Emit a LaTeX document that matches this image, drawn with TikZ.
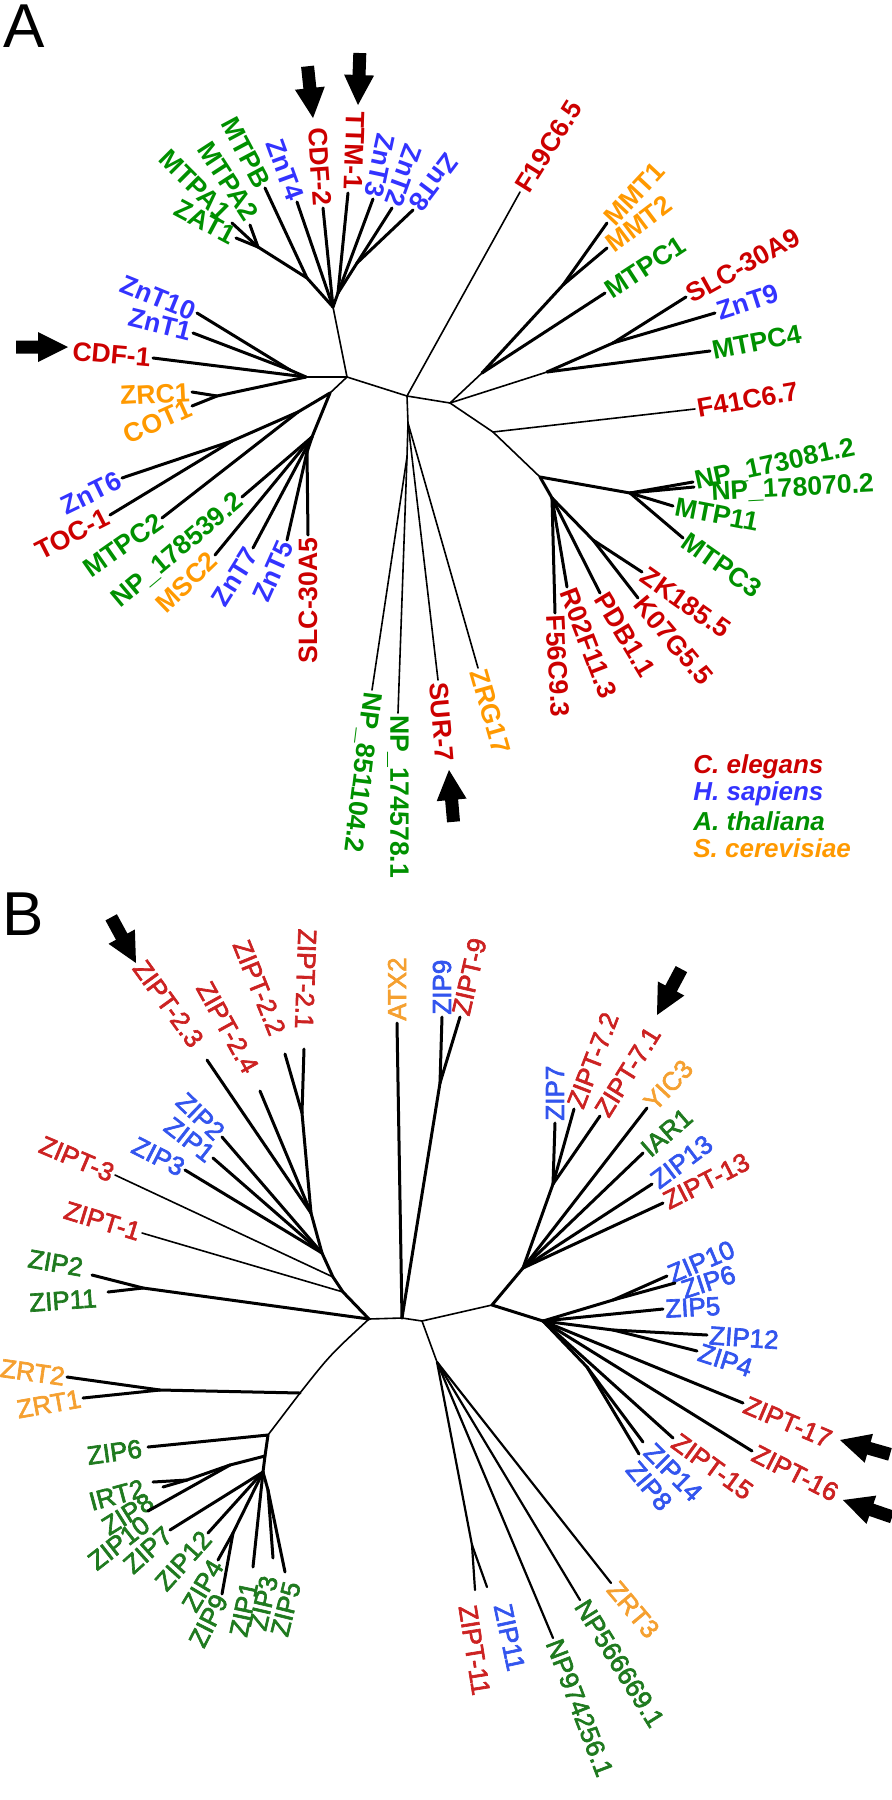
\documentclass[tikz,border=0pt]{standalone}
\usepackage{fontspec}
\setmainfont{Liberation Sans}
\newfontfamily\semibfam{Liberation Sans}[FakeBold=2.5]
\definecolor{cr}{HTML}{CC0000}
\definecolor{cb}{HTML}{3333FF}
\definecolor{cg}{HTML}{009000}
\definecolor{co}{HTML}{FF9900}
\definecolor{br}{HTML}{CC2222}
\definecolor{bb}{HTML}{3355EE}
\definecolor{bg}{HTML}{1F7A1F}
\definecolor{bo}{HTML}{F5A030}
\tikzset{
 la/.style={font=\bfseries\fontsize{13.3}{14}\selectfont, inner sep=1pt},
 lb/.style={font=\semibfam\fontsize{13}{14}\selectfont, inner sep=1pt},
 thk/.style={line width=1.5pt, line cap=round, line join=round},
 thn/.style={line width=0.8pt, line cap=round, line join=round},
 mid/.style={line width=1.1pt, line cap=round, line join=round},
 legend/.style={font=\bfseries\itshape\fontsize{13}{13}\selectfont, inner sep=0pt, anchor=west},
 panel/.style={font=\fontsize{31}{31}\selectfont, inner sep=0pt, anchor=base west},
}
\newcommand\lfE[6]{\node[#1,text=#5,anchor=east,rotate=#4] (#2) at (#3) {#6};}
\newcommand\lfW[6]{\node[#1,text=#5,anchor=west,rotate=#4] (#2) at (#3) {#6};}
\newcommand\barrow[2]{\begin{scope}[shift={(#1)},rotate=#2]
 \fill (0,0) -- (-30,-15) -- (-30,-6.5) -- (-52,-6.5) -- (-52,6.5) -- (-30,6.5) -- (-30,15) -- cycle;
 \end{scope}}
\begin{document}
\begin{tikzpicture}[x=0.5pt,y=-0.5pt]
\useasboundingbox (0,0) rectangle (892,1800);
\node[panel] (pA) at (3,47) {A};
\node[panel] (pB) at (2,935) {B};
% ================= TREE A =================
\coordinate (aT) at (333,307);
\coordinate (aTm) at (307,278);
\coordinate (aTma) at (258,247);
\coordinate (aTz) at (338,293);
\coordinate (aTz2) at (357,263);
\coordinate (aL) at (347,377);
\coordinate (aLc) at (306,377);
\coordinate (aLc1) at (290,370);
\coordinate (aLz) at (217,396);
\coordinate (aLL) at (330,393);
\coordinate (aJ1) at (298,412);
\coordinate (aJ2) at (232,441);
\coordinate (aJ3) at (312,437);
\coordinate (aJ4) at (307,452);
\coordinate (aM) at (407,396);
\coordinate (aMd) at (408,423);
\coordinate (aMn) at (407,457);
\coordinate (aR) at (450,403);
\coordinate (aRm) at (482,373);
\coordinate (aRmm) at (563,285);
\coordinate (aRs) at (547,372);
\coordinate (aRs2) at (613,343);
\coordinate (aRf) at (493,432);
\coordinate (aRl) at (540,477);
\coordinate (aRn) at (630,493);
\coordinate (aRk) at (552,498);
\coordinate (aRk2) at (593,540);
\coordinate (aNP178070t) at (694,487);
\coordinate (tMTPA1) at (232,223);
\coordinate (tMTPA2) at (250,225);
\coordinate (tTTM1) at (348,193);
% leaves A
\lfE{la}{aZAT1}{236,238}{-28}{cg}{ZAT1}
\lfE{la}{aMTPA1}{228,218}{-45}{cg}{MTPA1}
\lfE{la}{aMTPA2}{254,220}{-57}{cg}{MTPA2}
\lfE{la}{aMTPB}{265,188}{-62}{cg}{MTPB}
\lfE{la}{aZnT4}{297,202}{-70}{cb}{ZnT4}
\lfE{la}{aCDF2}{323,208}{-86}{cr}{CDF-2}
\lfE{la}{aTTM1}{353,192}{-92}{cr}{TTM-1}
\lfE{la}{aZnT3}{373,199}{-102}{cb}{ZnT3}
\lfE{la}{aZnT2}{392,208}{-110}{cb}{ZnT2}
\lfE{la}{aZnT8}{413,210}{-127}{cb}{ZnT8}
\lfE{la}{aZnT10}{197,313}{-22}{cb}{ZnT10}
\lfE{la}{aZnT1}{193,333}{-14}{cb}{ZnT1}
\lfE{la}{aCDF1}{153,358}{-5}{cr}{CDF-1}
\lfE{la}{aZRC1}{192,392}{3}{co}{ZRC1}
\lfE{la}{aCOT1}{192,406}{24}{co}{COT1}
\lfE{la}{aZnT6}{122,478}{26}{cb}{ZnT6}
\lfE{la}{aTOC1}{110,515}{27}{cr}{TOC-1}
\lfE{la}{aMTPC2}{162,518}{35}{cg}{MTPC2}
\lfE{la}{aNP178539}{242,497}{40}{cg}{NP\_178539.2}
\lfE{la}{aMSC2}{215,555}{44}{co}{MSC2}
\lfE{la}{aZnT7}{253,548}{58}{cb}{ZnT7}
\lfE{la}{aZnT5}{287,540}{66}{cb}{ZnT5}
\lfE{la}{aSLC30A5}{308,535}{90}{cr}{SLC-30A5}
\lfW{la}{aNP851104}{372,690}{-97}{cg}{NP\_851104.2}
\lfW{la}{aNP174578}{398,713}{-90}{cg}{NP\_174578.1}
\lfW{la}{aSUR7}{438,680}{-85}{cr}{SUR-7}
\lfW{la}{aZRG17}{478,668}{-74}{co}{ZRG17}
\lfW{la}{aF19}{520,192}{58}{cr}{F19C6.5}
\lfW{la}{aMMT1}{607,223}{47}{co}{MMT1}
\lfW{la}{aMMT2}{607,248}{37}{co}{MMT2}
\lfW{la}{aMTPC1}{605,293}{33}{cg}{MTPC1}
\lfW{la}{aSLC30A9}{686,297}{29}{cr}{SLC-30A9}
\lfW{la}{aZnT9}{715,313}{18}{cb}{ZnT9}
\lfW{la}{aMTPC4}{710,351}{11}{cg}{MTPC4}
\lfW{la}{aF41}{695,409}{10}{cr}{F41C6.7}
\lfW{la}{aNP173081}{693,482}{12}{cg}{NP\_173081.2}
\lfW{la}{aNP178070}{709,493}{3}{cg}{NP\_178070.2}
\lfW{la}{aMTP11}{673,506}{-11}{cg}{MTP11}
\lfW{la}{aMTPC3}{683,538}{-35}{cg}{MTPC3}
\lfW{la}{aZK185}{642,572}{-35}{cr}{ZK185.5}
\lfW{la}{aK07G5}{638,598}{-50}{cr}{K07G5.5}
\lfW{la}{aPDB11}{600,593}{-59}{cr}{PDB1.1}
\lfW{la}{aR02F11}{567,587}{-69}{cr}{R02F11.3}
\lfW{la}{aF56C9}{555,613}{-87}{cr}{F56C9.3}
% edges A thin
\draw[thn] (aT) -- (aL);
\draw[thn] (aLc) -- (aL);
\draw[thn] (aL) -- (aM);
\draw[thn] (aL) -- (aLL);
\draw[thn] (aM) -- (aR);
\draw[thn] (aM) -- (aMd);
\draw[thn] (aMd) -- (aMn);
\draw[thn] (aMd) -- (aSUR7.west);
\draw[thn] (aMd) -- (aZRG17.west);
\draw[thn] (aMn) -- (aNP851104.west);
\draw[thn] (aMn) -- (aNP174578.west);
\draw[thn] (aM) -- (aF19.west);
\draw[thn] (aR) -- (aRm);
\draw[thn] (aR) -- (aRs);
\draw[thn] (aR) -- (aRf);
\draw[thn] (aRf) -- (aRl);
\draw[thn] (aRf) -- (aF41.west);
% edges A thick
\draw[thk] (aT) -- (aTm);
\draw[thk] (aTm) -- (aTma);
\draw[thk] (aTma) -- (aZAT1.east);
\draw[thk] (aTma) -- (tMTPA1);
\draw[thk] (aTma) -- (tMTPA2);
\draw[thk] (aTm) -- (aMTPB.east);
\draw[thk] (aT) -- (aZnT4.east);
\draw[thk] (aT) -- (aCDF2.east);
\draw[thk] (aT) -- (aTz);
\draw[thk] (aTz) -- (tTTM1);
\draw[thk] (aTz) -- (aZnT3.east);
\draw[thk] (aTz) -- (aTz2);
\draw[thk] (aTz2) -- (aZnT2.east);
\draw[thk] (aTz2) -- (aZnT8.east);
\draw[thk] (aLc) -- (aLc1);
\draw[thk] (aLc1) -- (aZnT10.east);
\draw[thk] (aLc1) -- (aZnT1.east);
\draw[thk] (aLc) -- (aCDF1.east);
\draw[thk] (aLc) -- (aLz);
\draw[thk] (aLz) -- (aZRC1.east);
\draw[thk] (aLz) -- (aCOT1.east);
\draw[thk] (aLL) -- (aJ1);
\draw[thk] (aJ1) -- (aJ2);
\draw[thk] (aJ2) -- (aZnT6.east);
\draw[thk] (aJ2) -- (aTOC1.east);
\draw[thk] (aJ1) -- (aMTPC2.east);
\draw[thk] (aLL) -- (aJ3);
\draw[thk] (aJ3) -- (aNP178539.east);
\draw[thk] (aJ3) -- (aMSC2.east);
\draw[thk] (aJ3) -- (aZnT7.east);
\draw[thk] (aJ3) -- (aJ4);
\draw[thk] (aJ4) -- (aZnT5.east);
\draw[thk] (aJ4) -- (aSLC30A5.east);
\draw[thk] (aRm) -- (aRmm);
\draw[thk] (aRmm) -- (aMMT1.west);
\draw[thk] (aRmm) -- (aMMT2.west);
\draw[thk] (aRm) -- (aMTPC1.west);
\draw[thk] (aRs) -- (aRs2);
\draw[thk] (aRs2) -- (aSLC30A9.west);
\draw[thk] (aRs2) -- (aZnT9.west);
\draw[thk] (aRs) -- (aMTPC4.west);
\draw[thk] (aRl) -- (aRn);
\draw[thk] (aRn) -- (aNP173081.west);
\draw[thk] (aRn) -- (aNP178070t);
\draw[thk] (aRn) -- (aMTP11.west);
\draw[thk] (aRn) -- (aMTPC3.west);
\draw[thk] (aRl) -- (aRk);
\draw[thk] (aRk) -- (aF56C9.west);
\draw[thk] (aRk) -- (aR02F11.west);
\draw[thk] (aRk) -- (aPDB11.west);
\draw[thk] (aRk) -- (aRk2);
\draw[thk] (aRk2) -- (aK07G5.west);
\draw[thk] (aRk2) -- (aZK185.west);
% arrows A
\barrow{68,347}{0}
\barrow{313,118}{-84}
\barrow{358,105}{-92}
\barrow{449,770}{95}
% legend
\node[legend,text=cr] (legC) at (693,767) {C. elegans};
\node[legend,text=cb] (legH) at (693,794) {H. sapiens};
\node[legend,text=cg] (legA) at (693,821) {A. thaliana};
\node[legend,text=co] (legS) at (693,848) {S. cerevisiae};
% ================= TREE B =================
\coordinate (bBL) at (369,1319);
\coordinate (bBM) at (402,1318);
\coordinate (bBR) at (422,1321);
\coordinate (bP1) at (143,1288);
\coordinate (bBLa) at (343,1292);
\coordinate (bBLb) at (333,1277);
\coordinate (bBLc) at (322,1253);
\coordinate (bBLd) at (311,1213);
\coordinate (bBLe) at (302,1113);
\coordinate (bZ9) at (440,1083);
\coordinate (bBR2) at (492,1305);
\coordinate (bBRa) at (523,1268);
\coordinate (bBRa1) at (553,1184);
\coordinate (bBRb) at (543,1321);
\coordinate (bB10) at (613,1300);
\coordinate (bB12) at (613,1330);
\coordinate (bB14) at (587,1367);
\coordinate (bBRl) at (437,1362);
\coordinate (bB11) at (472,1545);
\coordinate (bBLz0) at (300,1393);
\coordinate (bZRT) at (160,1390);
\coordinate (bBLz) at (268,1435);
\coordinate (bBLz2) at (265,1456);
\coordinate (bBLp) at (230,1465);
\coordinate (bIR) at (187,1480);
\coordinate (bBLq) at (263,1472);
\coordinate (bZ49) at (233,1533);
\coordinate (bZ35) at (268,1490);
% tips whose label sits a little apart
\coordinate (tZIPT23) at (207,1060);
\coordinate (tZIPT24) at (260,1091);
\coordinate (tZIPT22) at (285,1054);
\coordinate (tZIPT21) at (304,1049);
\coordinate (tZIPT11) at (475,1590);
\coordinate (tZIP11b) at (487,1587);
\coordinate (tZIP8r) at (639,1454);
\coordinate (tZIP14r) at (643,1442);
\coordinate (tZIP6r) at (675,1283);
\coordinate (tZIP6g) at (148,1447);
\coordinate (tIRT2) at (153,1482);
\coordinate (tZIP8g) at (163,1487);
\coordinate (tZIP10g) at (148,1511);
\coordinate (tZIP1g) at (253,1567);
\coordinate (tZIP3g) at (273,1558);
\coordinate (tZIP5g) at (285,1572);
\coordinate (tZIP2g) at (92,1275);
\coordinate (tZIP11g) at (108,1292);
% leaves B
\lfE{lb}{bZIPT23}{199,1046}{-54}{br}{ZIPT-2.3}
\lfE{lb}{bZIPT24}{253,1073}{-61}{br}{ZIPT-2.4}
\lfE{lb}{bZIPT22}{279,1036}{-68}{br}{ZIPT-2.2}
\lfE{lb}{bZIPT21}{304,1031}{-92}{br}{ZIPT-2.1}
\lfW{lb}{bATX2}{397,1023}{90}{bo}{ATX2}
\lfW{lb}{bZIP9}{442,1017}{90}{bb}{ZIP9}
\lfW{lb}{bZIPT9}{460,1017}{77}{br}{ZIPT-9}
\lfE{lb}{bZIP2u}{222,1137}{-44}{bb}{ZIP2}
\lfE{lb}{bZIP1u}{213,1158}{-38}{bb}{ZIP1}
\lfE{lb}{bZIP3u}{185,1170}{-27}{bb}{ZIP3}
\lfE{lb}{bZIPT3}{115,1175}{-23}{br}{ZIPT-3}
\lfE{lb}{bZIPT1}{142,1233}{-17}{br}{ZIPT-1}
\lfE{lb}{bZIP2g}{85,1268}{-10}{bg}{ZIP2}
\lfE{lb}{bZIP11g}{99,1298}{4}{bg}{ZIP11}
\lfW{lb}{bZIP7r}{555,1123}{90}{bb}{ZIP7}
\lfW{lb}{bZIPT72}{574,1109}{69}{br}{ZIPT-7.2}
\lfW{lb}{bZIPT71}{600,1116}{58}{br}{ZIPT-7.1}
\lfW{lb}{bYIC3}{647,1108}{47}{bo}{YIC3}
\lfW{lb}{bIAR1}{643,1153}{41}{bg}{IAR1}
\lfW{lb}{bZIP13}{652,1184}{37}{bb}{ZIP13}
\lfW{lb}{bZIPT13}{663,1203}{27}{br}{ZIPT-13}
\lfW{lb}{bZIP10r}{667,1276}{23}{bb}{ZIP10}
\lfW{lb}{bZIP6r}{680,1291}{18}{bb}{ZIP6}
\lfW{lb}{bZIP5r}{663,1309}{3}{bb}{ZIP5}
\lfW{lb}{bZIP12r}{707,1335}{-4}{bb}{ZIP12}
\lfW{lb}{bZIP4r}{697,1351}{-18}{bb}{ZIP4}
\lfW{lb}{bZIPT17}{743,1403}{-23}{br}{ZIPT-17}
\lfW{lb}{bZIPT16}{752,1451}{-27}{br}{ZIPT-16}
\lfW{lb}{bZIPT15}{673,1438}{-36}{br}{ZIPT-15}
\lfW{lb}{bZIP14r}{647,1446}{-45}{bb}{ZIP14}
\lfW{lb}{bZIP8r}{630,1463}{-50}{bb}{ZIP8}
\lfW{lb}{bZIPT11}{467,1603}{-81}{br}{ZIPT-11}
\lfW{lb}{bZIP11b}{502,1602}{-78}{bb}{ZIP11}
\lfW{lb}{bNP974}{553,1638}{-69}{bg}{NP974256.1}
\lfW{lb}{bNP566}{580,1600}{-58}{bg}{NP566669.1}
\lfW{lb}{bZRT3}{611,1583}{-50}{bo}{ZRT3}
\lfE{lb}{bZRT2}{67,1377}{-8}{bo}{ZRT2}
\lfE{lb}{bZRT1}{83,1398}{10}{bo}{ZRT1}
\lfE{lb}{bZIP6g}{144,1448}{8}{bg}{ZIP6}
\lfE{lb}{bIRT2}{146,1487}{15}{bg}{IRT2}
\lfE{lb}{bZIP8g}{153,1498}{32}{bg}{ZIP8}
\lfE{lb}{bZIP10g}{148,1520}{38}{bg}{ZIP10}
\lfE{lb}{bZIP7g}{170,1530}{42}{bg}{ZIP7}
\lfE{lb}{bZIP12g}{208,1533}{48}{bg}{ZIP12}
\lfE{lb}{bZIP4g}{218,1560}{59}{bg}{ZIP4}
\lfE{lb}{bZIP9g}{222,1594}{63}{bg}{ZIP9}
\lfE{lb}{bZIP1g}{250,1580}{78}{bg}{ZIP1}
\lfE{lb}{bZIP3g}{270,1574}{77}{bg}{ZIP3}
\lfE{lb}{bZIP5g}{293,1580}{76}{bg}{ZIP5}
% edges B thin
\draw[thn] (bBL) -- (bBM);
\draw[thn] (bBM) -- (bBR);
\draw[thn] (bBR) -- (bBR2);
\draw[thn] (bBR) -- (bBRl);
\draw[thn] (bBL) .. controls (330,1355) .. (bBLz0);
\draw[thn] (bBLz0) -- (bBLz);
\draw[thn] (bBLb) -- (bZIPT3.east);
\draw[thn] (bBLa) -- (bZIPT1.east);
% edges B thick
\draw[thk] (bBL) -- (bBLa) -- (bBLb) -- (bBLc) -- (bBLd) -- (bBLe);
\draw[thk] (bBL) -- (bP1);
\draw[thk] (bP1) -- (tZIP2g);
\draw[thk] (bP1) -- (tZIP11g);
\draw[thk] (bBLc) -- (bZIP2u.east);
\draw[thk] (bBLc) -- (bZIP1u.east);
\draw[thk] (bBLc) -- (bZIP3u.east);
\draw[thk] (bBLd) -- (tZIPT23);
\draw[thk] (bBLd) -- (tZIPT24);
\draw[thk] (bBLe) -- (tZIPT22);
\draw[thk] (bBLe) -- (tZIPT21);
\draw[thk] (bBM) -- (bATX2.west);
\draw[thk] (bBM) -- (bZ9);
\draw[thk] (bZ9) -- (bZIP9.west);
\draw[thk] (bZ9) -- (bZIPT9.west);
\draw[thk] (bBR2) -- (bBRa);
\draw[thk] (bBR2) -- (bBRb);
\draw[thk] (bBRa) -- (bBRa1);
\draw[thk] (bBRa1) -- (bZIP7r.west);
\draw[thk] (bBRa1) -- (bZIPT72.west);
\draw[thk] (bBRa1) -- (bZIPT71.west);
\draw[thk] (bBRa) -- (bYIC3.west);
\draw[thk] (bBRa) -- (bIAR1.west);
\draw[thk] (bBRa) -- (bZIP13.west);
\draw[thk] (bBRa) -- (bZIPT13.west);
\draw[thk] (bBRb) -- (bB10);
\draw[thk] (bB10) -- (bZIP10r.west);
\draw[thk] (bB10) -- (tZIP6r);
\draw[thk] (bBRb) -- (bZIP5r.west);
\draw[thk] (bBRb) -- (bB12);
\draw[thk] (bB12) -- (bZIP12r.west);
\draw[thk] (bB12) -- (bZIP4r.west);
\draw[thk] (bBRb) -- (bZIPT17.west);
\draw[thk] (bBRb) -- (bZIPT16.west);
\draw[thk] (bBRb) -- (bZIPT15.west);
\draw[thk] (bBRb) -- (bB14);
\draw[thk] (bB14) -- (tZIP14r);
\draw[thk] (bB14) -- (tZIP8r);
\draw[mid] (bBRl) -- (bB11);
\draw[mid] (bB11) -- (tZIPT11);
\draw[mid] (bB11) -- (tZIP11b);
\draw[mid] (bBRl) -- (bNP974.west);
\draw[mid] (bBRl) -- (bNP566.west);
\draw[mid] (bBRl) -- (bZRT3.west);
\draw[thk] (bBLz0) -- (bZRT);
\draw[thk] (bZRT) -- (bZRT2.east);
\draw[thk] (bZRT) -- (bZRT1.east);
\draw[thk] (bBLz) -- (tZIP6g);
\draw[thk] (bBLz) -- (bBLz2);
\draw[thk] (bBLz2) -- (bBLp);
\draw[thk] (bBLp) -- (bIR);
\draw[thk] (bIR) -- (tIRT2);
\draw[thk] (bIR) -- (tZIP8g);
\draw[thk] (bBLp) -- (tZIP10g);
\draw[thk] (bBLz2) -- (bBLq);
\draw[thk] (bBLq) -- (bZIP7g.east);
\draw[thk] (bBLq) -- (bZIP12g.east);
\draw[thk] (bBLq) -- (bZ49);
\draw[thk] (bZ49) -- (bZIP4g.east);
\draw[thk] (bZ49) -- (bZIP9g.east);
\draw[thk] (bBLq) -- (tZIP1g);
\draw[thk] (bBLq) -- (bZ35);
\draw[thk] (bZ35) -- (tZIP3g);
\draw[thk] (bZ35) -- (tZIP5g);
% arrows B
\barrow{136,963}{-61.5}
\barrow{657,1015}{-118}
\barrow{840,1440}{164}
\barrow{843,1500}{161}
\end{tikzpicture}
\end{document}
